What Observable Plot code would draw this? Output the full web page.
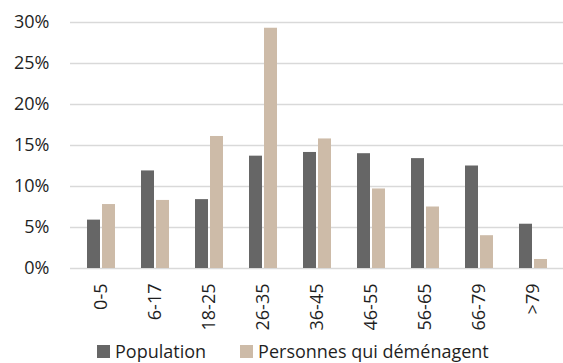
<!DOCTYPE html>
<html>
<head>
<meta charset="utf-8">
<script src="https://cdn.jsdelivr.net/npm/d3@7"></script>
<script src="https://cdn.jsdelivr.net/npm/@observablehq/plot@0.6"></script>
<style>
  html, body { margin: 0; padding: 0; background: #fff; }
  #chart { width: 563px; height: 363px; overflow: hidden; font-family: "Open Sans", sans-serif; color: #1f1f1f; }
  .legend { display: flex; align-items: center; height: 23px; padding-left: 97px; font-size: 18px; line-height: 23px; white-space: nowrap; }
  .legend .sw { display: inline-block; width: 13px; height: 13px; margin-right: 5px; }
  .legend .item { display: flex; align-items: center; margin-right: 34px; }
</style>
</head>
<body>
<div id="chart"></div>
<script>
const categories = ["0-5", "6-17", "18-25", "26-35", "36-45", "46-55", "56-65", "66-79", ">79"];
const seriesNames = ["Population", "Personnes qui déménagent"];
const population = [5.9, 11.9, 8.4, 13.7, 14.15, 14.0, 13.4, 12.5, 5.4];
const movers = [7.8, 8.3, 16.1, 29.3, 15.8, 9.7, 7.5, 4.0, 1.1];
const yTicks = [0, 5, 10, 15, 20, 25, 30];

const colors = ["#666666", "#CDBBA8"];

const popData = categories.map((c, i) => ({cat: c, value: population[i]}));
const movData = categories.map((c, i) => ({cat: c, value: movers[i]}));

const plot = Plot.plot({
  width: 563,
  height: 340,
  marginTop: 22,
  marginBottom: 72,
  marginLeft: 70,
  marginRight: 0,
  style: {fontSize: "18px", fontFamily: "'Open Sans', sans-serif", color: "#1f1f1f", background: "#fff"},
  x: {domain: categories, paddingInner: 0.49, paddingOuter: 0.245, label: null},
  y: {domain: [0, 30], label: null},
  marks: [
    Plot.ruleY(yTicks, {stroke: "#d9d9d9", strokeWidth: 1.5}),
    Plot.barY(popData, {x: "cat", y: "value", fill: colors[0], insetRight: 15}),
    Plot.barY(movData, {x: "cat", y: "value", fill: colors[1], insetLeft: 15}),
    Plot.axisY({ticks: yTicks, tickFormat: d => d + "%", tickSize: 0, tickPadding: 21, label: null, fill: "#1f1f1f"}),
    Plot.axisX({tickRotate: -90, tickSize: 0, tickPadding: 15, label: null, fill: "#1f1f1f"})
  ]
});

const chart = document.getElementById("chart");
chart.appendChild(plot);

const legend = document.createElement("div");
legend.className = "legend";
seriesNames.forEach((name, i) => {
  const item = document.createElement("span");
  item.className = "item";
  const sw = document.createElement("span");
  sw.className = "sw";
  sw.style.background = colors[i];
  item.appendChild(sw);
  item.appendChild(document.createTextNode(name));
  legend.appendChild(item);
});
chart.appendChild(legend);
</script>
</body>
</html>
